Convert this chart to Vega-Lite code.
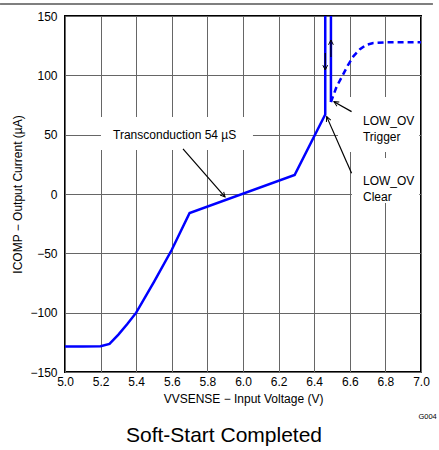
{
  "$schema": "https://vega.github.io/schema/vega-lite/v6.json",
  "width": 356,
  "height": 356,
  "autosize": "none",
  "padding": {"left": 65, "top": 16, "right": 18, "bottom": 78},
  "background": "white",
  "config": {
    "font": "Liberation Sans",
    "view": {"stroke": "black", "strokeWidth": 2},
    "axis": {
      "grid": true, "gridColor": "#666666", "gridOpacity": 1, "gridWidth": 1,
      "domain": false, "ticks": false, "tickSize": 0, "labelOverlap": false,
      "labelFont": "Liberation Sans", "labelFontSize": 12, "labelColor": "black",
      "titleFont": "Liberation Sans", "titleFontSize": 12, "titleFontWeight": "normal", "titleColor": "black"
    }
  },
  "title": {
    "text": "Soft-Start Completed", "orient": "bottom", "frame": "group", "anchor": "middle",
    "fontSize": 21, "fontWeight": "normal", "font": "Liberation Sans", "color": "black",
    "offset": 5, "dx": -19
  },
  "encoding": {
    "x": {"field": "v", "type": "quantitative",
          "scale": {"domain": [5, 7], "nice": false, "zero": false},
          "axis": {"values": [5, 5.2, 5.4, 5.6, 5.8, 6, 6.2, 6.4, 6.6, 6.8, 7], "format": ".1f", "labelPadding": 4, "titlePadding": 6, "labelOverlap": false, "labelFlush": false, "labelBound": false},
          "title": "VVSENSE − Input Voltage (V)"},
    "y": {"field": "i", "type": "quantitative",
          "scale": {"domain": [-150, 150], "nice": false, "zero": false},
          "axis": {"values": [-150, -100, -50, 0, 50, 100, 150], "labelPadding": 8, "titlePadding": 5, "labelOverlap": false},
          "title": "ICOMP − Output Current (µA)"}
  },
  "datasets": {
    "curve": [
      {"v": 5.0, "i": -128.5, "seg": "a", "ord": 1},
      {"v": 5.1, "i": -128.5, "seg": "a", "ord": 2},
      {"v": 5.2, "i": -128.3, "seg": "a", "ord": 3},
      {"v": 5.25, "i": -126.3, "seg": "a", "ord": 4},
      {"v": 5.3, "i": -118.5, "seg": "a", "ord": 5},
      {"v": 5.35, "i": -109.5, "seg": "a", "ord": 6},
      {"v": 5.4, "i": -100, "seg": "a", "ord": 7},
      {"v": 5.5, "i": -74, "seg": "a", "ord": 8},
      {"v": 5.6, "i": -47, "seg": "a", "ord": 9},
      {"v": 5.7, "i": -16, "seg": "a", "ord": 10},
      {"v": 6.29, "i": 16, "seg": "a", "ord": 11},
      {"v": 6.462, "i": 67, "seg": "a", "ord": 12},
      {"v": 6.462, "i": 150, "seg": "a", "ord": 13},
      {"v": 6.494, "i": 150, "seg": "b", "ord": 1},
      {"v": 6.494, "i": 77.5, "seg": "b", "ord": 2},
      {"v": 6.494, "i": 77.5, "seg": "c", "ord": 1},
      {"v": 6.526, "i": 90.5, "seg": "c", "ord": 2},
      {"v": 6.56, "i": 100, "seg": "c", "ord": 3},
      {"v": 6.59, "i": 108.7, "seg": "c", "ord": 4},
      {"v": 6.62, "i": 116, "seg": "c", "ord": 5},
      {"v": 6.657, "i": 122, "seg": "c", "ord": 6},
      {"v": 6.69, "i": 125.5, "seg": "c", "ord": 7},
      {"v": 6.732, "i": 127.3, "seg": "c", "ord": 8},
      {"v": 6.8, "i": 127.8, "seg": "c", "ord": 9},
      {"v": 7.0, "i": 127.8, "seg": "c", "ord": 10}
    ],
    "boxes": [
      {"v": 5.202, "v2": 6.056, "i": 37.1, "i2": 64.9},
      {"v": 6.534, "v2": 6.99, "i": 35.4, "i2": 81.8},
      {"v": 6.612, "v2": 6.99, "i": -7.5, "i2": 30.4}
    ],
    "arrows": [
      {"name": "tc", "v2": 5.663, "i2": 38, "v": 5.899, "i": -2.5},
      {"name": "trig", "v2": 6.61, "i2": 69.4, "v": 6.511, "i": 77.8},
      {"name": "clr", "v2": 6.61, "i2": 17.5, "v": 6.47, "i": 65.2},
      {"name": "up", "v2": 6.494, "i2": 115.5, "v": 6.494, "i": 129.8},
      {"name": "down", "v2": 6.462, "i2": 118.8, "v": 6.462, "i": 104.5},
      {"name": "frame", "v": 4.635, "i": 160.1, "v2": 7.067, "i2": 160.1}
    ],
    "labels": [
      {"t": "Transconduction 54 µS", "v": 5.27, "i": 50},
      {"t": "LOW_OV", "v": 6.674, "i": 61.5},
      {"t": "Trigger", "v": 6.674, "i": 48},
      {"t": "LOW_OV", "v": 6.674, "i": 11},
      {"t": "Clear", "v": 6.674, "i": -2.5}
    ],
    "code": [{"t": "G004", "v": 7.037, "i": -187.5}]
  },
  "layer": [
    {
      "data": {"name": "boxes"},
      "mark": {"type": "rect", "fill": "white", "stroke": null},
      "encoding": {"x2": {"field": "v2"}, "y2": {"field": "i2"}}
    },
    {
      "data": {"name": "curve"},
      "transform": [{"filter": "datum.seg !== 'c'"}],
      "mark": {"type": "line", "color": "#0000FF", "strokeWidth": 2.5, "clip": true},
      "encoding": {
        "detail": {"field": "seg"},
        "order": {"field": "ord", "type": "quantitative"}
      }
    },
    {
      "data": {"name": "curve"},
      "transform": [{"filter": "datum.seg === 'c'"}],
      "mark": {"type": "line", "color": "#0000FF", "strokeWidth": 2.5, "strokeDash": [6, 4], "clip": true},
      "encoding": {
        "order": {"field": "ord", "type": "quantitative"}
      }
    },
    {
      "data": {"name": "arrows"},
      "mark": {"type": "rule", "color": "black", "strokeWidth": 1.2, "clip": false},
      "encoding": {"x2": {"field": "v2"}, "y2": {"field": "i2"}}
    },
    {
      "data": {"name": "arrows"},
      "transform": [{"filter": "datum.name === 'tc'"}],
      "mark": {"type": "point", "shape": "M-1.6,-0.8L0,0L-1.6,0.8", "filled": false, "stroke": "black", "strokeWidth": 1, "size": 36, "angle": 49, "opacity": 1}
    },
    {
      "data": {"name": "arrows"},
      "transform": [{"filter": "datum.name === 'trig'"}],
      "mark": {"type": "point", "shape": "M-1.6,-0.8L0,0L-1.6,0.8", "filled": false, "stroke": "black", "strokeWidth": 1, "size": 36, "angle": 210, "opacity": 1}
    },
    {
      "data": {"name": "arrows"},
      "transform": [{"filter": "datum.name === 'clr'"}],
      "mark": {"type": "point", "shape": "M-1.6,-0.8L0,0L-1.6,0.8", "filled": false, "stroke": "black", "strokeWidth": 1, "size": 36, "angle": 246, "opacity": 1}
    },
    {
      "data": {"name": "arrows"},
      "transform": [{"filter": "datum.name === 'up'"}],
      "mark": {"type": "point", "shape": "M-1.6,-0.8L0,0L-1.6,0.8", "filled": false, "stroke": "black", "strokeWidth": 1, "size": 36, "angle": 270, "opacity": 1}
    },
    {
      "data": {"name": "arrows"},
      "transform": [{"filter": "datum.name === 'down'"}],
      "mark": {"type": "point", "shape": "M-1.6,-0.8L0,0L-1.6,0.8", "filled": false, "stroke": "black", "strokeWidth": 1, "size": 36, "angle": 90, "opacity": 1}
    },
    {
      "data": {"name": "labels"},
      "mark": {"type": "text", "align": "left", "baseline": "middle", "fontSize": 12, "font": "Liberation Sans", "color": "black"},
      "encoding": {"text": {"field": "t"}}
    },
    {
      "data": {"name": "code"},
      "mark": {"type": "text", "align": "center", "baseline": "middle", "fontSize": 7.5, "font": "Liberation Sans", "color": "black"},
      "encoding": {"text": {"field": "t"}}
    }
  ]
}
